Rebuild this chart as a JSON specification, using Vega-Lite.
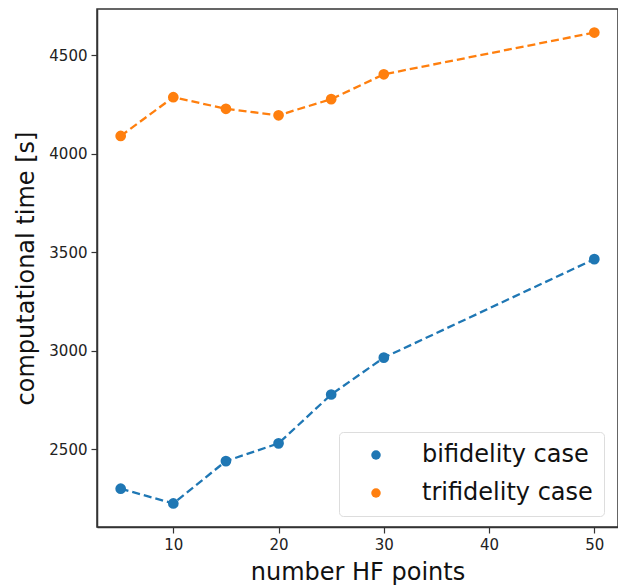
{
  "$schema": "https://vega.github.io/schema/vega-lite/v6.json",
  "width": 521,
  "height": 518,
  "autosize": {"type": "none"},
  "padding": {"left": 97, "top": 9, "right": 0, "bottom": 58},
  "background": "white",
  "config": {
    "font": "DejaVu Sans",
    "view": {"stroke": "#333333", "strokeWidth": 1.5},
    "axis": {
      "grid": false,
      "domainColor": "#333333",
      "domainWidth": 1.5,
      "tickColor": "#333333",
      "tickWidth": 1.2,
      "tickSize": 6,
      "labelFont": "DejaVu Sans",
      "labelFontSize": 15,
      "labelColor": "#222222",
      "labelPadding": 4,
      "titleFont": "DejaVu Sans",
      "titleFontSize": 24,
      "titleFontWeight": "normal",
      "titleColor": "#111111"
    },
    "legend": {
      "labelFont": "DejaVu Sans",
      "labelFontSize": 24,
      "labelColor": "#111111",
      "labelLimit": 400
    }
  },
  "data": {
    "values": [
      {"n": 5, "time": 2300, "case": "bifidelity case"},
      {"n": 10, "time": 2225, "case": "bifidelity case"},
      {"n": 15, "time": 2440, "case": "bifidelity case"},
      {"n": 20, "time": 2530, "case": "bifidelity case"},
      {"n": 25, "time": 2778, "case": "bifidelity case"},
      {"n": 30, "time": 2965, "case": "bifidelity case"},
      {"n": 50, "time": 3465, "case": "bifidelity case"},
      {"n": 5, "time": 4090, "case": "trifidelity case"},
      {"n": 10, "time": 4287, "case": "trifidelity case"},
      {"n": 15, "time": 4228, "case": "trifidelity case"},
      {"n": 20, "time": 4195, "case": "trifidelity case"},
      {"n": 25, "time": 4277, "case": "trifidelity case"},
      {"n": 30, "time": 4403, "case": "trifidelity case"},
      {"n": 50, "time": 4615, "case": "trifidelity case"}
    ]
  },
  "encoding": {
    "x": {
      "field": "n",
      "type": "quantitative",
      "scale": {"domain": [2.75, 52.25], "nice": false, "zero": false},
      "axis": {
        "title": "number HF points",
        "values": [10, 20, 30, 40, 50],
        "format": "d",
        "titleX": 260.5,
        "titleY": 52,
        "titleBaseline": "alphabetic",
        "titleAnchor": "middle"
      }
    },
    "y": {
      "field": "time",
      "type": "quantitative",
      "scale": {"domain": [2105.5, 4734.5], "nice": false, "zero": false},
      "axis": {
        "title": "computational time [s]",
        "values": [2500, 3000, 3500, 4000, 4500],
        "format": "d",
        "titleX": -64,
        "titleY": 259,
        "titleAngle": -90,
        "titleBaseline": "alphabetic",
        "titleAnchor": "middle"
      }
    },
    "color": {
      "field": "case",
      "type": "nominal",
      "scale": {"domain": ["bifidelity case", "trifidelity case"], "range": ["#1f77b4", "#ff7f0e"]},
      "legend": {
        "title": null,
        "orient": "none",
        "legendX": 242,
        "legendY": 423,
        "symbolType": "circle",
        "symbolSize": 90,
        "symbolStrokeWidth": 0,
        "symbolOffset": 14,
        "labelOffset": 34,
        "padding": 11,
        "rowPadding": 14,
        "strokeColor": "#dddddd",
        "fillColor": "white",
        "cornerRadius": 4
      }
    }
  },
  "layer": [
    {
      "mark": {"type": "line", "strokeDash": [8, 4], "strokeWidth": 2.3}
    },
    {
      "mark": {"type": "point", "filled": true, "opacity": 1, "size": 115, "shape": "circle"}
    }
  ]
}
